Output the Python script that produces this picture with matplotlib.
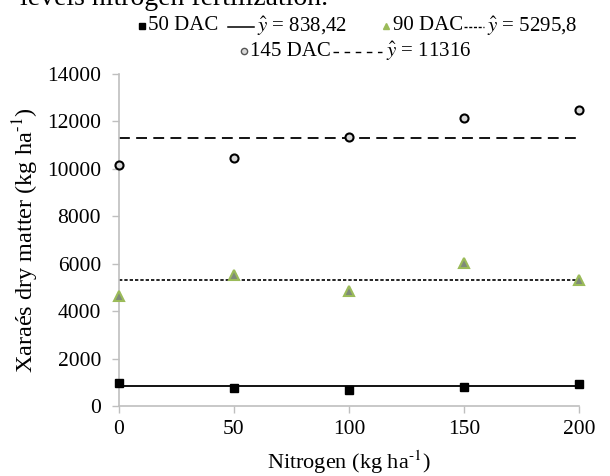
import matplotlib
matplotlib.use("Agg")
import matplotlib.pyplot as plt
from matplotlib.lines import Line2D

plt.rcParams['font.family'] = ['Liberation Serif', 'DejaVu Serif']
plt.rcParams['mathtext.fontset'] = 'stix'

nitrogen = [0, 50, 100, 150, 200]
dac50 = [983, 746, 662, 814, 940]
dac90 = [4650, 5520, 4860, 6040, 5310]
dac145 = [10160, 10460, 11340, 12150, 12480]
fit50 = 838.42
fit90 = 5295.8
fit145 = 11316
xticks = [0, 50, 100, 150, 200]
yticks = [0, 2000, 4000, 6000, 8000, 10000, 12000, 14000]

W, H = 610, 476
fig = plt.figure(figsize=(W / 100, H / 100), dpi=100)
ax = fig.add_axes([119 / W, 70 / H, (579 - 119) / W, (406 - 74) / H])

ax.plot([nitrogen[0], nitrogen[-1]], [fit50, fit50], color='black', lw=1.3, zorder=2)
ax.plot([nitrogen[0], nitrogen[-1]], [fit90, fit90], color='black', lw=1.2,
        linestyle=(0, (2, 1.2)), zorder=2)
ax.plot([nitrogen[0], nitrogen[-1]], [fit145, fit145], color='black', lw=1.3,
        linestyle=(0, (6, 3.5)), zorder=2)

ax.plot(nitrogen, dac50, linestyle='none', marker='s', ms=6.2, color='black', zorder=3, clip_on=False)
ax.plot(nitrogen, dac90, linestyle='none', marker='^', ms=6.5, markerfacecolor='#7f8a7a',
        markeredgecolor='#9bbb59', markeredgewidth=1.5, zorder=3, clip_on=False)
ax.plot(nitrogen, dac145, linestyle='none', marker='o', ms=5.8, markerfacecolor='#d9d9d9',
        markeredgecolor='black', markeredgewidth=1.5, zorder=3, clip_on=False)

ax.set_xlim(0, 200)
ax.set_ylim(0, 14000)
ax.set_xticks(xticks)
ax.set_yticks(yticks)
ax.tick_params(labelsize=15.5, color='#bfbfbf', length=5, width=1, direction='out')
ax.tick_params(axis='x', pad=5)
ax.tick_params(axis='y', pad=8)
for s in ['top', 'right']:
    ax.spines[s].set_visible(False)
for s in ['left', 'bottom']:
    ax.spines[s].set_color('#bfbfbf')
    ax.spines[s].set_linewidth(1.2)

ax.set_xlabel('Nitrogen (kg ha$^{\\text{-1}}$)', fontsize=16, labelpad=7)
ax.set_ylabel('Xaraés dry matter (kg ha$^{\\text{-1}}$)', fontsize=17.5, labelpad=4)

# top partially cropped caption text
fig.text(20 / W, 1 - 5 / H, 'levels nitrogen fertilization.', fontsize=20, va='baseline', ha='left')

# legend-like annotation (placed piece by piece)
fs = 15
def px(x, y):
    return x / W, 1 - y / H

r1, r2 = 26, 51
# row 1
fig.add_artist(Line2D([px(142, r1)[0]], [px(142, r1)[1]], marker='s', ms=5, color='black',
                      transform=fig.transFigure))
fig.text(*px(148, r1), '50 DAC', fontsize=fs, va='center', ha='left')
fig.add_artist(Line2D([px(228, r1)[0], px(254, r1)[0]], [px(0, r1 + 1)[1]] * 2, color='black', lw=1.1,
                      transform=fig.transFigure))
fig.text(*px(257, r1), '$\\hat{y}$ = 838,42', fontsize=fs, va='center', ha='left')
fig.add_artist(Line2D([px(386, r1)[0]], [px(386, r1)[1]], marker='^', ms=4.5,
                      markerfacecolor='#9bbb59', markeredgecolor='#9bbb59',
                      transform=fig.transFigure))
fig.text(*px(393, r1), '90 DAC', fontsize=fs, va='center', ha='left')
fig.add_artist(Line2D([px(464, r1)[0], px(484, r1)[0]], [px(0, r1 + 1)[1]] * 2, color='black', lw=1.0,
                      linestyle=(0, (2.2, 1.2)), transform=fig.transFigure))
fig.text(*px(487, r1), '$\\hat{y}$ = 5295,8', fontsize=fs, va='center', ha='left')
# row 2
fig.add_artist(Line2D([px(244, r2)[0]], [px(244, r2)[1]], marker='o', ms=4.5,
                      markerfacecolor='#d9d9d9', markeredgecolor='#555555', markeredgewidth=1.0,
                      transform=fig.transFigure))
fig.text(*px(250, r2), '145 DAC', fontsize=fs, va='center', ha='left')
fig.add_artist(Line2D([px(333, r2)[0], px(382, r2)[0]], [px(0, r2 + 1)[1]] * 2, color='black', lw=1.0,
                      linestyle=(0, (4, 4)), transform=fig.transFigure))
fig.text(*px(386, r2), '$\\hat{y}$ = 11316', fontsize=fs, va='center', ha='left')

fig.savefig('out.png', dpi=100)
